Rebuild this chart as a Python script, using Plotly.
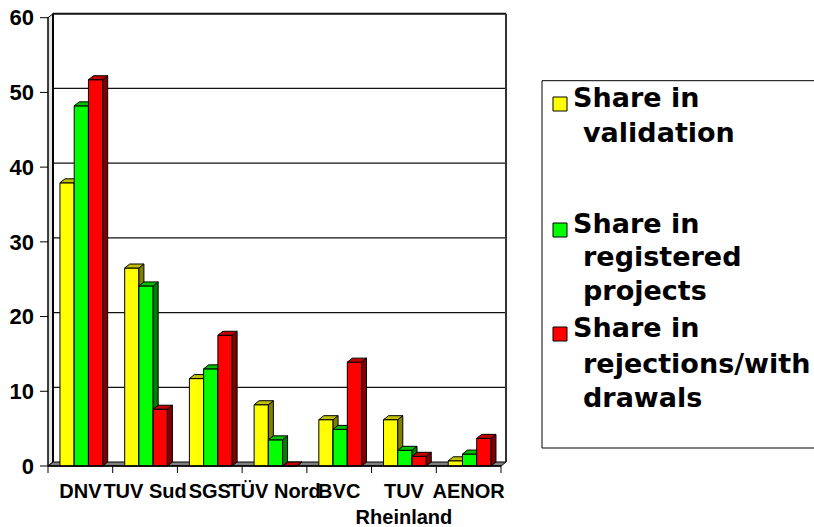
import plotly.graph_objects as go

# ---------------- data ----------------
categories = ["DNV", "TUV Sud", "SGS", "TÜV Nord", "BVC", "TUV Rheinland", "AENOR"]
tick_labels = ["DNV", "TUV Sud", "SGS", "TÜV Nord", "BVC", "TUV<br>Rheinland", "AENOR"]
series_names = ["Share in validation", "Share in registered projects",
                "Share in rejections/withdrawals"]
share_validation = [37.9, 26.5, 11.7, 8.2, 6.2, 6.2, 0.7]
share_registered = [48.2, 24.1, 13.0, 3.5, 4.9, 2.1, 1.6]
share_rejections = [51.7, 7.6, 17.5, 0.0, 13.9, 1.3, 3.7]
y_ticks = [0, 10, 20, 30, 40, 50, 60]
legend_lines = [["Share in", "validation"],
                ["Share in", "registered", "projects"],
                ["Share in", "rejections/with", "drawals"]]

# ---------------- styling / geometry ----------------
FONT = "Arial, Liberation Sans, sans-serif"
LEG_FONT = "DejaVu Sans, Arial, sans-serif"
front_colors = ["#FFFF00", "#00FF00", "#FF0000"]
top_colors = ["#C0C000", "#00C000", "#C00000"]
side_colors = ["#808000", "#008000", "#800000"]
bar_offsets = [-0.315, -0.095, 0.125]
bar_width = 0.22

W, H = 814, 527
PL, PR, PT, PB = 38, 512, 10, 474          # plot area in pixels
AX_X0, AX_X1 = 48, 501                      # front x-axis extent (px)
AX_Y0, AX_Y60 = 466, 17.7                   # front y positions of 0 and 60 (px)
n = len(categories)
kx = (AX_X1 - AX_X0) / n
ky = (AX_Y0 - AX_Y60) / 60.0
x_range = [-0.5 - (AX_X0 - PL) / kx, n - 0.5 + (PR - AX_X1) / kx]
y_range = [-(PB - AX_Y0) / ky, (AX_Y0 - PT) / ky]
dx = 5 / kx          # depth offset (data units)
dy = 4 / ky


def pxp(px):
    return (px - PL) / (PR - PL)


def pyp(py):
    return (PB - py) / (PB - PT)


xs = list(range(n))
series = [share_validation, share_registered, share_rejections]

fig = go.Figure()

for i, vals in enumerate(series):
    xa = "x" if i == 0 else f"x{i+1}"
    ya = "y" if i == 0 else f"y{i+1}"
    fig.add_trace(go.Bar(
        x=xs, y=vals, width=bar_width, offset=bar_offsets[i], name=series_names[i],
        marker=dict(color=front_colors[i], line=dict(color="black", width=1)),
        xaxis=xa, yaxis=ya, hoverinfo="skip", showlegend=False))
    tx, ty, sx, sy = [], [], [], []
    for x, v in zip(xs, vals):
        x0 = x + bar_offsets[i]
        x1 = x0 + bar_width
        tx += [x0, x0 + dx, x1 + dx, x1, x0, None]
        ty += [v, v + dy, v + dy, v, v, None]
        sx += [x1, x1 + dx, x1 + dx, x1, x1, None]
        sy += [0, dy, v + dy, v, 0, None]
    fig.add_trace(go.Scatter(x=sx, y=sy, mode="lines", fill="toself",
                             fillcolor=side_colors[i], line=dict(color="black", width=1),
                             xaxis=xa, yaxis=ya, hoverinfo="skip", showlegend=False))
    fig.add_trace(go.Scatter(x=tx, y=ty, mode="lines", fill="toself",
                             fillcolor=top_colors[i], line=dict(color="black", width=1),
                             xaxis=xa, yaxis=ya, hoverinfo="skip", showlegend=False))

shapes = []
xl, xr = -0.5, n - 0.5
ymax = y_ticks[-1]
# left wall
shapes.append(dict(type="path", xref="x", yref="y", layer="below",
                   path=f"M {xl},0 L {xl},{ymax} L {xl+dx},{ymax+dy} L {xl+dx},{dy} Z",
                   fillcolor="#e6e6e6", line=dict(color="black", width=1)))
# back-wall gridlines
for v in y_ticks[1:]:
    shapes.append(dict(type="line", xref="x", yref="y", layer="below",
                       x0=xl + dx, x1=xr + dx, y0=v + dy, y1=v + dy,
                       line=dict(color="#111111", width=2 if v == ymax else 1.3)))
# back-wall left and right edges
shapes.append(dict(type="line", xref="x", yref="y", layer="below",
                   x0=xl + dx, x1=xl + dx, y0=dy, y1=ymax + dy,
                   line=dict(color="black", width=2)))
shapes.append(dict(type="line", xref="x", yref="y", layer="below",
                   x0=xr + dx, x1=xr + dx, y0=dy, y1=ymax + dy,
                   line=dict(color="#333333", width=2)))
# floor
shapes.append(dict(type="path", xref="x", yref="y", layer="below",
                   path=f"M {xl},0 L {xr},0 L {xr+dx},{dy} L {xl+dx},{dy} Z",
                   fillcolor="#808080", line=dict(color="black", width=1)))
# front y axis line and ticks
shapes.append(dict(type="line", xref="x", yref="y", x0=xl, x1=xl, y0=0, y1=ymax,
                   line=dict(color="black", width=1)))
for v in y_ticks:
    shapes.append(dict(type="line", xref="x", yref="y", x0=xl - 8 / kx, x1=xl,
                       y0=v, y1=v, line=dict(color="black", width=1)))
# front x axis line and boundary ticks
shapes.append(dict(type="line", xref="x", yref="y", x0=xl, x1=xr, y0=0, y1=0,
                   line=dict(color="black", width=1.5)))
for i in range(n + 1):
    shapes.append(dict(type="line", xref="x", yref="y", x0=i - 0.5, x1=i - 0.5,
                       y0=0, y1=-7 / ky, line=dict(color="black", width=1)))

# manual legend
shapes.append(dict(type="rect", xref="paper", yref="paper",
                   x0=pxp(542), x1=pxp(840), y0=pyp(448), y1=pyp(80.7),
                   line=dict(color="black", width=1), fillcolor="rgba(0,0,0,0)"))
annotations = []
square_tops = [97, 223, 327]
baselines = [[107, 142], [233, 266, 300], [337, 373, 407]]
for i, lines in enumerate(legend_lines):
    st = square_tops[i]
    shapes.append(dict(type="rect", xref="paper", yref="paper",
                       x0=pxp(553), x1=pxp(567), y0=pyp(st + 14), y1=pyp(st),
                       fillcolor=front_colors[i], line=dict(color="black", width=1)))
    for j, txt in enumerate(lines):
        annotations.append(dict(
            xref="paper", yref="paper", x=pxp(571 if j == 0 else 581),
            y=pyp(baselines[i][j] - 9.5), xanchor="left", yanchor="middle",
            text=txt, showarrow=False,
            font=dict(family=LEG_FONT, size=27, color="black", weight="bold")))

common_hidden = dict(visible=False, showgrid=False, zeroline=False, fixedrange=True)
fig.update_layout(
    width=W, height=H,
    margin=dict(l=PL, r=W - PR, t=PT, b=H - PB, pad=0, autoexpand=False),
    paper_bgcolor="white", plot_bgcolor="white",
    barmode="overlay",
    showlegend=False,
    hovermode=False,
    shapes=shapes,
    annotations=annotations,
    xaxis=dict(range=x_range, tickvals=xs, ticktext=tick_labels, ticks="",
               tickangle=0, automargin=False, ticklabelstandoff=3,
               showgrid=False, zeroline=False, showline=False, fixedrange=True,
               tickfont=dict(family=FONT, size=20, color="black", weight="bold")),
    yaxis=dict(range=y_range, tickvals=y_ticks, ticks="", showgrid=False,
               automargin=False, ticklabelstandoff=3,
               zeroline=False, showline=False, fixedrange=True,
               tickfont=dict(family=FONT, size=22, color="black", weight="bold")),
    xaxis2=dict(range=x_range, overlaying="x", anchor="y2", **common_hidden),
    yaxis2=dict(range=y_range, overlaying="y", anchor="x2", **common_hidden),
    xaxis3=dict(range=x_range, overlaying="x", anchor="y3", **common_hidden),
    yaxis3=dict(range=y_range, overlaying="y", anchor="x3", **common_hidden),
)

fig.write_html("out.html", config={"displayModeBar": False},
               post_script="document.body.style.margin='0';")
